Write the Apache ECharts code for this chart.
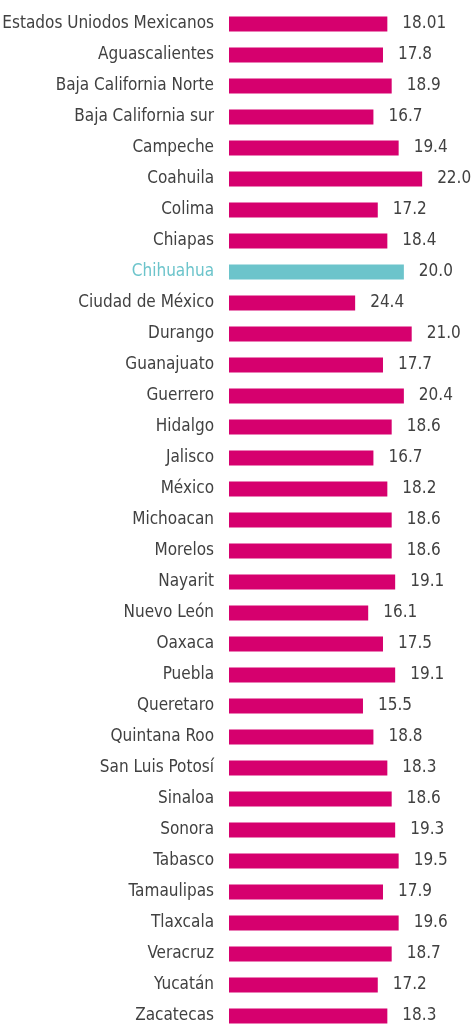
<!DOCTYPE html>
<html>
<head>
<meta charset="utf-8">
<script src="https://cdn.jsdelivr.net/npm/echarts@6/dist/echarts.min.js"></script>
<style>
  html, body { margin: 0; padding: 0; background: #fff; }
  #chart { width: 472px; height: 1025px; }
</style>
</head>
<body>
<div id="chart"></div>
<script>
  // estados
  var estados = ['Estados Uniodos Mexicanos', 'Aguascalientes', 'Baja California Norte', 'Baja California sur',
    'Campeche', 'Coahuila', 'Colima', 'Chiapas', 'Chihuahua', 'Ciudad de México', 'Durango', 'Guanajuato',
    'Guerrero', 'Hidalgo', 'Jalisco', 'México', 'Michoacan', 'Morelos', 'Nayarit', 'Nuevo León', 'Oaxaca',
    'Puebla', 'Queretaro', 'Quintana Roo', 'San Luis Potosí', 'Sinaloa', 'Sonora', 'Tabasco', 'Tamaulipas',
    'Tlaxcala', 'Veracruz', 'Yucatán', 'Zacatecas'];

  // largo de barra
  var barras = [18.2, 17.7, 18.7, 16.6, 19.5, 22.2, 17.1, 18.2, 20.1, 14.5, 21.0, 17.7,
    20.1, 18.7, 16.6, 18.2, 18.7, 18.7, 19.1, 16.0, 17.7,
    19.1, 15.4, 16.6, 18.2, 18.7, 19.1, 19.5, 17.7,
    19.5, 18.7, 17.1, 18.2];

  // etiquetas que trae el grafico
  var etiquetas = ['18.01', '17.8', '18.9', '16.7', '19.4', '22.0', '17.2', '18.4', '20.0', '24.4', '21.0', '17.7',
    '20.4', '18.6', '16.7', '18.2', '18.6', '18.6', '19.1', '16.1', '17.5',
    '19.1', '15.5', '18.8', '18.3', '18.6', '19.3', '19.5', '17.9',
    '19.6', '18.7', '17.2', '18.3'];

  var destacado = 'Chihuahua';
  var rosa = '#d6006e';
  var turquesa = '#6cc4cb';
  var fuente = '"DejaVu Sans Condensed", sans-serif';

  var myChart = echarts.init(document.getElementById('chart'));
  myChart.setOption({
    animation: false,
    grid: { left: 229, top: 8.5, width: 217.5, height: 1023, outerBoundsMode: 'none', containLabel: false },
    xAxis: {
      type: 'value', min: 0, max: 25,
      show: false
    },
    yAxis: {
      type: 'category',
      inverse: true,
      data: estados,
      axisLine: { show: false },
      axisTick: { show: false },
      axisLabel: {
        margin: 15,
        fontSize: 17,
        fontFamily: fuente,
        color: function (v) { return v === destacado ? turquesa : '#414141'; }
      }
    },
    series: [{
      type: 'bar',
      barWidth: 15,
      data: barras.map(function (v, i) {
        return { value: v, itemStyle: { color: estados[i] === destacado ? turquesa : rosa } };
      }),
      label: {
        show: true,
        position: 'right',
        distance: 15,
        fontSize: 17,
        fontFamily: fuente,
        color: '#414141',
        formatter: function (p) { return etiquetas[p.dataIndex]; }
      }
    }]
  });
</script>
</body>
</html>
